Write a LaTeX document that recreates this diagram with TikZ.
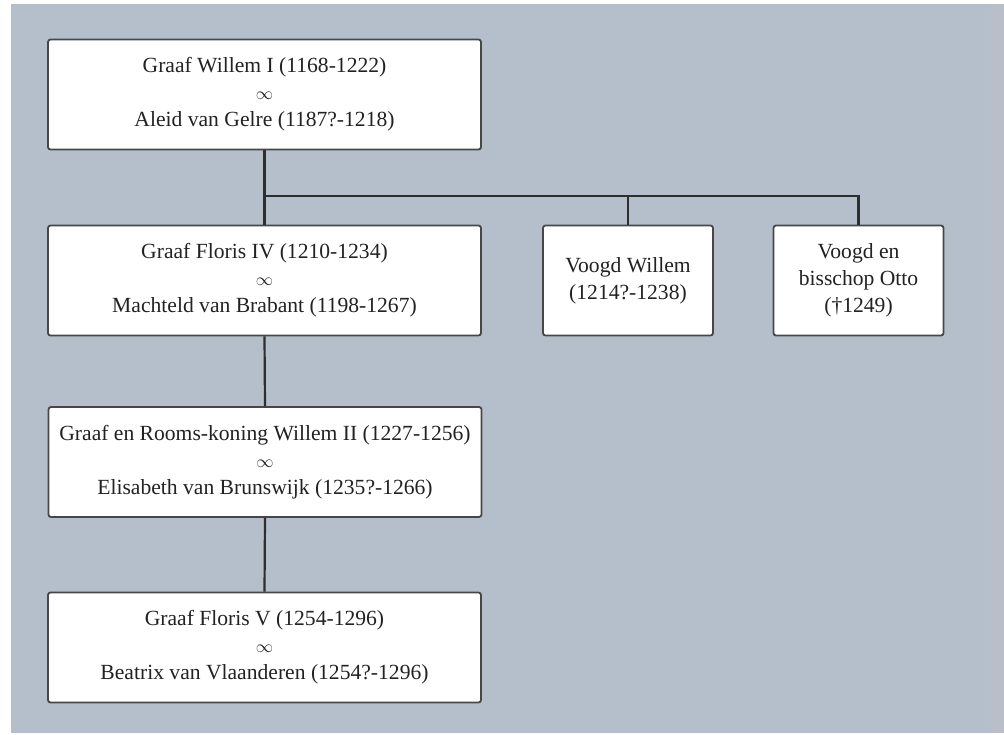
\documentclass[tikz,border=0pt]{standalone}
\usepackage{fontspec}
\setmainfont{Liberation Serif}
\definecolor{bgblue}{HTML}{B4BFCB}
\definecolor{bgedge}{HTML}{B9BEC8}
\definecolor{boxline}{HTML}{474747}
\definecolor{txt}{HTML}{222222}
\definecolor{conn}{HTML}{2E2E2E}
\newcommand{\marr}{{\fontsize{19}{27}\selectfont$\infty$}}
\begin{document}
\begin{tikzpicture}[x=1pt,y=-1pt,
  famnode/.style={draw=boxline, line width=1.8pt, fill=white, rounded corners=2.5pt,
    minimum width=433pt, minimum height=110pt, inner sep=0pt, align=center,
    text=txt, font=\fontsize{21.6}{27}\selectfont},
  smallnode/.style={famnode, minimum width=170pt},
  link/.style={draw=conn, line width=2.2pt}]
\useasboundingbox (0,0) rectangle (1004,734);
\fill[white] (0,0) rectangle (1004,734);
\fill[bgblue] (11,4) rectangle (1004,733);
\fill[bgedge] (991,4) rectangle (1004,733);

\node[famnode] (b1) at (264.5,94.5) {Graaf Willem I (1168-1222)\\ \marr\\ Aleid van Gelre (1187?-1218)};
\node[famnode] (b2) at (264.5,280.5) {Graaf Floris IV (1210-1234)\\ \marr\\ Machteld van Brabant (1198-1267)};
\node[smallnode] (vw) at (628,280.5) {Voogd Willem\\ (1214?-1238)};
\node[smallnode] (otto) at (858.5,280.5) {Voogd en\\ bisschop Otto\\ (\textdagger1249)};
\node[famnode] (b3) at (265,462) {Graaf en Rooms-koning Willem II (1227-1256)\\ \marr\\ Elisabeth van Brunswijk (1235?-1266)};
\node[famnode] (b4) at (264.5,647.5) {Graaf Floris V (1254-1296)\\ \marr\\ Beatrix van Vlaanderen (1254?-1296)};

\coordinate (j) at (264.5,196);
\draw[link] (b1.south) -- (b2.north);
\draw[link] (j) -| (vw.north);
\draw[link] (j) -| (otto.north);
\draw[link] (b2.south) -- (b3.north);
\draw[link] (b3.south) -- (b4.north);
\end{tikzpicture}
\end{document}
